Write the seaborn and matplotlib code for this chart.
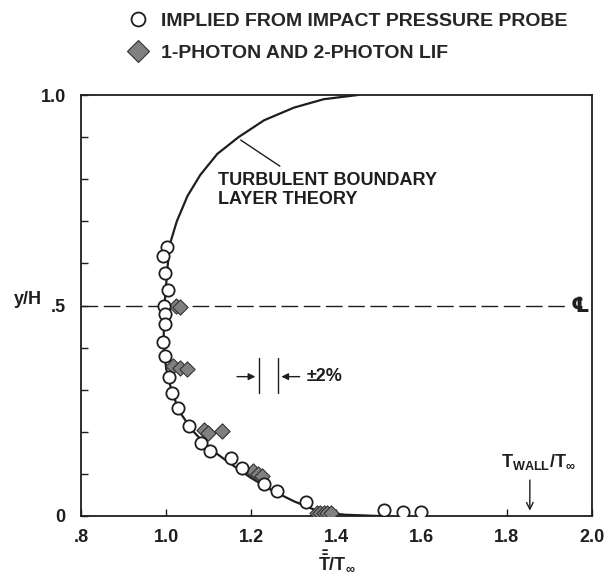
import matplotlib
matplotlib.use("Agg")
import matplotlib.pyplot as plt
import seaborn as sns
from matplotlib.lines import Line2D

# ---------------- data ----------------
probe_x = [1.002, 0.992, 0.997, 1.004, 0.994, 0.997, 0.997, 0.993, 0.997,
           1.007, 1.014, 1.028, 1.054, 1.082, 1.103, 1.152, 1.178, 1.230,
           1.260, 1.328, 1.511, 1.556, 1.598]
probe_y = [0.638, 0.617, 0.577, 0.536, 0.498, 0.479, 0.455, 0.414, 0.379,
           0.331, 0.293, 0.257, 0.214, 0.174, 0.155, 0.138, 0.114, 0.076,
           0.060, 0.033, 0.014, 0.010, 0.010]

lif_x = [1.022, 1.032, 1.015, 1.032, 1.048, 1.088, 1.098, 1.130,
         1.205, 1.215, 1.225, 1.355, 1.362, 1.370, 1.378, 1.386]
lif_y = [0.500, 0.497, 0.357, 0.352, 0.350, 0.205, 0.198, 0.203,
         0.108, 0.100, 0.096, 0.006, 0.006, 0.006, 0.006, 0.006]

theory_x = [1.50, 1.42, 1.36, 1.30, 1.25, 1.20, 1.15, 1.10, 1.06, 1.03,
            1.012, 1.000, 0.995, 0.994, 0.996, 1.000, 1.004, 1.010, 1.025,
            1.050, 1.080, 1.120, 1.170, 1.230, 1.300, 1.370, 1.450]
theory_y = [0.000, 0.003, 0.010, 0.035, 0.060, 0.090, 0.125, 0.162, 0.205,
            0.250, 0.300, 0.350, 0.400, 0.450, 0.500, 0.550, 0.600, 0.650,
            0.700, 0.760, 0.810, 0.860, 0.900, 0.940, 0.970, 0.990, 1.000]

x_ticks = [0.8, 1.0, 1.2, 1.4, 1.6, 1.8, 2.0]
x_ticklabels = [".8", "1.0", "1.2", "1.4", "1.6", "1.8", "2.0"]
y_ticks = [0.0, 0.5, 1.0]
y_ticklabels = ["0", ".5", "1.0"]
y_minor = [0.1, 0.2, 0.3, 0.4, 0.6, 0.7, 0.8, 0.9]

legend_labels = ["IMPLIED FROM IMPACT PRESSURE PROBE", "1-PHOTON AND 2-PHOTON LIF"]
t_wall = 1.854

# ---------------- style ----------------
sns.set_theme(style="ticks")
plt.rcParams["font.family"] = ["Liberation Sans", "DejaVu Sans"]
plt.rcParams["font.weight"] = "bold"
plt.rcParams["mathtext.fontset"] = "custom"
plt.rcParams["mathtext.rm"] = "Liberation Sans:bold"
plt.rcParams["mathtext.it"] = "Liberation Sans:bold"
plt.rcParams["mathtext.bf"] = "Liberation Sans:bold"

FS = 13
INK = "#1e1e1e"
GRAY = "#808080"

fig = plt.figure(figsize=(6.11, 5.74), dpi=100)
ax = fig.add_axes([81 / 611, 1 - 516 / 574, (592 - 81) / 611, (516 - 95) / 574])
ax.set_facecolor("white")
fig.patch.set_facecolor("white")

# theory curve
sns.lineplot(x=theory_x, y=theory_y, sort=False, estimator=None,
             color=INK, linewidth=1.6, ax=ax, zorder=2)

# centre line
ax.axhline(0.5, color=INK, linewidth=1.0, linestyle=(0, (12, 4)), zorder=1)

# LIF diamonds
sns.scatterplot(x=lif_x, y=lif_y, marker="D", s=60, color=GRAY,
                edgecolor="#333333", linewidth=0.8, ax=ax, zorder=3)
# probe circles
sns.scatterplot(x=probe_x, y=probe_y, marker="o", s=78, color="white",
                edgecolor=INK, linewidth=1.3, ax=ax, zorder=4)

ax.set_xlim(0.8, 2.0)
ax.set_ylim(0.0, 1.0)
ax.set_xticks(x_ticks)
ax.set_xticklabels(x_ticklabels)
ax.set_yticks(y_ticks)
ax.set_yticklabels(y_ticklabels)
ax.set_yticks(y_minor, minor=True)
ax.tick_params(axis="both", which="both", direction="in", color=INK,
               labelsize=FS, labelcolor=INK)
ax.tick_params(axis="x", which="major", length=5, width=1, pad=9)
ax.tick_params(axis="y", which="major", length=5, width=1, pad=11)
ax.tick_params(axis="y", which="minor", length=5, width=1)
for s in ax.spines.values():
    s.set_visible(True)
    s.set_linewidth(1.3)
    s.set_color(INK)
ax.set_xlabel("")
ax.set_ylabel("")

# axis labels
fig.text(28 / 611, 1 - 300 / 574, "y/H", fontsize=FS, ha="center", va="center", color=INK)
fig.text(337 / 611, 1 - 561 / 574, r"$\bar{\bar{\mathrm{T}}}/\mathrm{T}_{\infty}$",
         fontsize=FS, ha="center", va="center", color=INK)

# centre-line symbol
ax.text(1.972, 0.5, "\u2104", fontsize=15, ha="center", va="center", color=INK,
        family=["DejaVu Sans"], fontweight="bold",
        bbox=dict(facecolor="white", edgecolor="none", pad=0.5), zorder=5)

# theory label with leader
ax.text(1.122, 0.774, "TURBULENT BOUNDARY\nLAYER THEORY", fontsize=FS,
        ha="left", va="center", color=INK, linespacing=1.2)
ax.plot([1.175, 1.267], [0.893, 0.831], color=INK, linewidth=1.0)

# +/-2% annotation
ax.plot([1.218, 1.218], [0.293, 0.376], color=INK, linewidth=1.0)
ax.plot([1.262, 1.262], [0.293, 0.376], color=INK, linewidth=1.0)
ax.annotate("", xy=(1.216, 0.331), xytext=(1.160, 0.331),
            arrowprops=dict(arrowstyle="-|>", color=INK, lw=1.0, mutation_scale=10))
ax.annotate("", xy=(1.264, 0.331), xytext=(1.320, 0.331),
            arrowprops=dict(arrowstyle="-|>", color=INK, lw=1.0, mutation_scale=10))
ax.text(1.330, 0.331, "\u00b12%", fontsize=FS, ha="left", va="center", color=INK)

# T_wall arrow
ax.annotate("", xy=(t_wall, 0.006), xytext=(t_wall, 0.092),
            arrowprops=dict(arrowstyle="->", color=INK, lw=1.0, mutation_scale=12))
ax.text(1.875, 0.128, r"$\mathrm{T_{WALL}/T_{\infty}}$", fontsize=FS,
        ha="center", va="center", color=INK)

# legend
handles = [
    Line2D([], [], linestyle="", marker="o", markersize=10, markerfacecolor="white",
           markeredgecolor=INK, markeredgewidth=1.3),
    Line2D([], [], linestyle="", marker="D", markersize=11.5, markerfacecolor=GRAY,
           markeredgecolor="#333333", markeredgewidth=0.8),
]
fig.legend(handles, legend_labels, loc="upper left",
           bbox_to_anchor=(127 / 611, 1 - 12 / 574), bbox_transform=fig.transFigure,
           frameon=False, fontsize=14, handlelength=1.1, handletextpad=0.65,
           labelspacing=0.75, borderpad=0.0, borderaxespad=0.0)

fig.savefig("out.png", dpi=100, facecolor="white")
